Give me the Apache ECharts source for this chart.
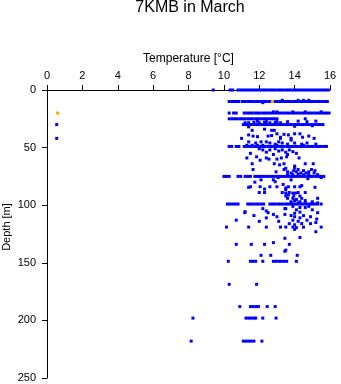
<!DOCTYPE html>
<html>
<head>
<meta charset="utf-8">
<script src="https://cdn.jsdelivr.net/npm/echarts@6/dist/echarts.min.js"></script>
<style>html,body{margin:0;padding:0;background:#fff;}#c{width:341px;height:384px;}</style>
</head>
<body>
<div id="c"></div>
<script>
// Axis ticks
const xTicks = [0, 2, 4, 6, 8, 10, 12, 14, 16];
const yTicks = [0, 50, 100, 150, 200, 250];

// Dense sampling rows: temperatures observed at a given depth
const row0 = [9.4, 10.35, 10.5, 10.8, 10.95, 11.1, 11.25, 11.4, 11.55, 11.7, 11.85, 12.0, 12.15, 12.3, 12.45, 12.6, 12.75, 12.9, 13.05, 13.2, 13.35, 13.5, 13.65, 13.8, 13.95, 14.1, 14.25, 14.4, 14.55, 14.7, 14.85, 15.0, 15.15, 15.3, 15.45, 15.6, 15.75, 15.9];
const row10 = [10.3, 10.45, 10.6, 10.75, 10.85, 11.05, 11.2, 11.35, 11.5, 11.65, 11.8, 11.95, 12.1, 12.25, 12.4, 12.55, 12.7, 12.85, 13.0, 13.15, 13.3, 13.45, 13.6, 13.75, 13.9, 14.05, 14.2, 14.35, 14.5, 14.65, 14.8, 14.95, 15.1, 15.25, 15.4, 15.55, 15.7, 15.85];
const row20 = [10.3, 10.55, 10.7, 11.15, 11.3, 11.45, 11.6, 11.75, 11.9, 12.05, 12.2, 12.35, 12.5, 12.65, 12.8, 12.95, 13.1, 13.25, 13.4, 13.55, 13.7, 13.85, 14.0, 14.15, 14.3, 14.45, 14.6, 14.75, 14.9, 15.05, 15.2, 15.35, 15.5, 15.65, 15.8, 15.95];
const row25 = [10.3, 10.45, 10.6, 10.75, 10.9, 11.05, 11.2, 11.35, 11.5, 11.65, 11.8, 11.95, 12.1, 12.25, 12.4, 12.55, 12.7, 12.85, 13.0, 14.6];
const row30 = [11.1, 11.25, 11.4, 11.55, 11.7, 11.85, 12.0, 12.15, 12.3, 12.45, 12.6, 12.75, 12.9, 13.05, 13.2, 13.35, 13.5, 13.65, 13.8, 13.95, 14.1, 14.25, 14.4, 14.55, 14.7, 14.85, 15.0, 15.15, 15.3, 15.45, 15.6];
const row49 = [10.3, 10.45, 10.7, 10.85, 11.15, 11.3, 11.45, 11.6, 11.75, 11.9, 12.05, 12.2, 12.35, 12.5, 12.65, 12.8, 12.95, 13.1, 13.25, 13.4, 13.55, 13.7, 13.85, 14.0, 14.15, 14.3, 14.45, 14.6, 14.75, 14.9, 15.05, 15.2, 15.35, 15.5, 15.65, 15.8];
const row75 = [10.0, 10.15, 10.3, 10.8, 10.95, 11.2, 11.35, 11.5, 11.75, 11.9, 12.05, 12.2, 12.35, 12.5, 12.65, 12.8, 12.95, 13.1, 13.25, 13.4, 13.55, 13.7, 13.85, 14.0, 14.15, 14.3, 14.45, 14.6, 14.75, 14.9, 15.05, 15.2, 15.35, 15.5, 15.65];
const row99 = [10.2, 10.35, 10.5, 10.65, 10.8, 11.35, 11.5, 11.65, 11.8, 11.95, 12.1, 12.25, 12.6, 12.75, 12.9, 13.05, 13.2, 13.35, 13.5, 13.65, 13.8, 13.95, 14.1, 14.25, 14.4, 14.55, 14.7, 14.85, 15.0, 15.15, 15.3, 15.5];
const row149 = [10.25, 11.5, 11.65, 11.8, 12.2, 12.8, 12.95, 13.1, 13.25, 13.4, 13.55, 14.1];
const row169 = [10.3, 11.85];
const row188 = [10.9, 11.5, 11.65, 11.8, 11.95, 12.45, 12.9];
const row198 = [8.25, 11.25, 11.4, 11.55, 11.7, 11.8, 12.2, 12.95];
const row218 = [8.15, 11.1, 11.25, 11.4, 11.55, 11.7, 12.15];

// Scattered individual observations [temperature, depth]
const scattered = [
  [0.55, 30], [0.55, 42],
  [13.3, 9], [14.2, 9], [14.5, 9], [14.8, 9], [12.2, 11],
  [12.8, 19], [13.0, 19], [13.9, 19], [14.6, 19], [15.5, 19],
  [11.7, 28], [12.0, 28.5], [12.3, 28], [12.6, 28.5], [12.9, 28], [13.2, 28.5], [13.6, 27.5], [14.2, 27], [14.7, 27.5], [15.2, 27], [11.9, 27], [12.4, 27.5], [13.0, 27.5], [11.2, 28.4], [11.4, 28.4],
  [11.4, 32], [14.0, 31.5], [15.0, 31],
  [11.6, 35], [12.3, 34], [12.7, 35], [12.85, 35],
  [11.0, 42], [11.4, 39], [11.65, 40], [11.9, 40.5], [12.5, 40], [12.7, 39.5], [13.0, 38], [13.2, 41], [13.4, 38.5], [13.65, 39], [13.8, 42], [14.0, 38], [14.3, 38], [14.45, 41], [14.8, 40], [15.1, 42], [13.2, 42], [13.8, 43.5],
  [11.4, 45], [11.8, 46], [12.1, 45], [12.4, 45], [12.6, 46], [12.9, 47], [13.1, 45], [13.3, 46], [13.6, 47], [14.0, 46], [14.4, 47], [14.7, 46], [15.2, 47],
  [11.3, 48], [11.6, 48], [11.9, 48], [12.2, 48], [13.0, 48], [14.5, 48],
  [11.5, 55], [12.2, 52], [12.4, 54], [12.6, 52], [12.9, 51], [13.1, 53], [13.3, 52], [13.5, 54], [13.7, 52], [13.6, 56], [14.1, 55], [12.8, 56], [12.0, 51], [13.9, 53.5],
  [11.3, 59], [11.85, 58], [12.05, 61], [12.4, 59], [12.55, 60], [13.0, 60], [13.25, 59], [13.55, 58], [14.25, 59],
  [11.6, 64], [12.85, 64], [13.15, 65], [14.0, 66], [14.6, 64], [15.05, 64], [13.4, 64], [11.65, 69],
  [12.95, 71], [13.4, 69], [13.6, 71], [13.8, 72], [13.95, 70], [14.1, 71], [14.2, 69], [14.35, 72], [14.5, 70], [14.65, 72], [14.8, 71], [14.95, 69], [15.1, 72], [14.2, 73], [14.5, 73.5], [15.15, 70], [13.5, 68], [14.0, 67.5],
  [13.6, 73.5], [13.9, 73.5], [14.8, 73.5], [15.3, 73.5], [15.5, 76],
  [13.07, 76], [12.8, 78], [13.8, 78], [14.75, 77], [11.75, 80], [12.1, 78], [12.9, 79.6], [11.4, 84.5], [12.05, 84], [13.0, 84], [13.35, 82], [13.65, 84], [14.0, 84], [14.4, 83], [15.15, 84.5], [11.5, 84], [12.6, 84], [13.5, 85], [14.3, 84], [12.3, 86], [13.5, 86.5],
  [12.0, 89], [12.3, 89], [13.3, 89], [13.5, 89.5], [13.7, 89], [13.9, 89.5], [14.2, 89], [14.6, 89], [14.05, 89.5], [13.65, 91], [13.95, 92], [14.3, 92], [13.5, 92],
  [13.6, 94], [13.9, 94], [14.1, 95], [14.4, 94], [15.3, 94], [14.0, 96], [14.3, 97], [13.8, 97], [14.6, 96], [15.0, 97],
  [13.8, 98], [14.2, 98], [14.6, 98], [15.0, 98.5], [15.3, 98],
  [12.2, 103], [13.5, 103], [14.1, 104], [14.3, 102], [15.0, 104], [11.2, 105.6], [12.4, 105], [13.45, 103], [14.6, 102], [13.9, 101], [14.8, 101],
  [11.18, 106.5], [12.5, 106.5], [14.0, 107], [14.3, 106], [15.3, 106.5], [13.0, 110], [13.45, 108], [13.8, 109], [14.0, 110], [14.3, 111], [14.5, 109], [14.9, 110], [15.25, 112], [13.9, 113], [14.2, 114], [14.7, 113], [10.7, 113], [11.7, 109], [12.4, 111], [12.8, 108], [12.0, 114], [13.1, 114], [14.4, 116], [14.9, 116], [15.2, 115], [13.7, 116], [14.0, 117],
  [10.15, 119], [11.4, 119], [12.4, 119], [13.2, 119], [13.5, 119], [13.9, 119], [14.1, 119.5], [14.5, 119], [15.5, 119], [15.2, 123], [14.0, 121],
  [13.45, 128.7], [14.3, 128], [12.8, 132.5], [10.7, 134], [11.55, 134], [12.3, 134], [13.7, 134], [13.5, 139],
  [12.1, 143.5], [12.65, 143.5], [13.45, 140], [14.15, 143.5]
];

// Highlighted (orange) observations [temperature, depth]
const highlighted = [[0.6, 20], [12.75, 10]];

const rowSets = [
  [row0, 0], [row10, 10], [row20, 20], [row25, 25], [row30, 30], [row49, 49],
  [row75, 75], [row99, 99], [row149, 148.7], [row169, 168.7], [row188, 188],
  [row198, 198], [row218, 218]
];
const blueData = [];
rowSets.forEach(([temps, d]) => temps.forEach(t => blueData.push([t, d])));
scattered.forEach(p => blueData.push(p));

const FONT = 'Liberation Sans';
const chart = echarts.init(document.getElementById('c'), null, {renderer: 'canvas'});
chart.setOption({
  animation: false,
  backgroundColor: '#ffffff',
  title: {
    text: '7KMB in March',
    left: 190, top: 0, padding: 0, textAlign: 'center',
    textStyle: {fontFamily: FONT, fontSize: 16, fontWeight: 'normal', color: '#000'}
  },
  graphic: [{
    type: 'text', x: 7, y: 227, rotation: Math.PI / 2,
    style: {text: 'Depth [m]', align: 'center', verticalAlign: 'middle', fill: '#000',
            font: '11px "Liberation Sans"'}
  }],
  grid: {left: 47, right: 11, top: 90, bottom: 6, containLabel: false, outerBoundsMode: 'none'},
  xAxis: {
    type: 'value', position: 'top', min: xTicks[0], max: xTicks[xTicks.length - 1], interval: 2,
    name: 'Temperature [°C]', nameLocation: 'middle', nameGap: 24,
    nameTextStyle: {fontFamily: FONT, fontSize: 12, color: '#000'},
    axisLine: {show: true, lineStyle: {color: '#000', width: 1}},
    axisTick: {show: true, length: 5, inside: false, lineStyle: {color: '#000'}},
    axisLabel: {fontFamily: FONT, fontSize: 11, color: '#000', margin: 9},
    splitLine: {show: false}
  },
  yAxis: {
    type: 'value', inverse: true, min: yTicks[0], max: yTicks[yTicks.length - 1], interval: 50,
    axisLine: {show: true, onZero: false, lineStyle: {color: '#000', width: 1}},
    axisTick: {show: true, length: 5, inside: false, lineStyle: {color: '#000'}},
    axisLabel: {fontFamily: FONT, fontSize: 11, color: '#000', margin: 11},
    splitLine: {show: false}
  },
  series: [
    {
      type: 'scatter', data: blueData, symbol: 'rect', symbolSize: [3, 3],
      itemStyle: {color: '#0000ff', opacity: 1}, clip: false, z: 2
    },
    {
      type: 'scatter', data: highlighted, symbol: 'rect', symbolSize: [3, 3],
      itemStyle: {color: '#ffa500', opacity: 1}, clip: false, z: 3
    }
  ]
});
</script>
</body>
</html>
